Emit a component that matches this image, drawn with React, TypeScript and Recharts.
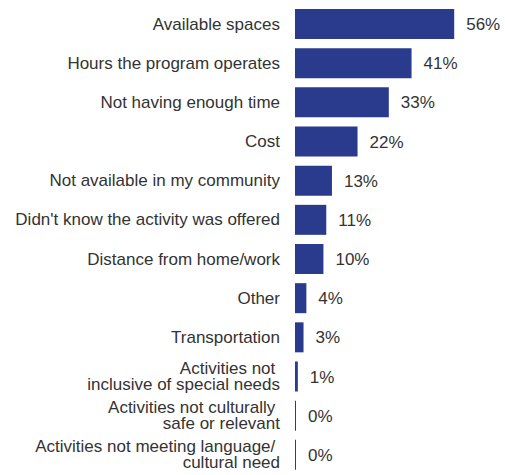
import React from 'react'
import { BarChart, Bar, XAxis, YAxis, LabelList } from 'recharts'

// Survey barriers, share of respondents (%)
const CATEGORIES = [
  'Available spaces',
  'Hours the program operates',
  'Not having enough time',
  'Cost',
  'Not available in my community',
  "Didn't know the activity was offered",
  'Distance from home/work',
  'Other',
  'Transportation',
  'Activities not \ninclusive of special needs',
  'Activities not culturally \nsafe or relevant',
  'Activities not meeting language/ \ncultural need',
]
const VALUES = [56, 41, 33, 22, 13, 11, 10, 4, 3, 1, 0, 0]

const DATA = CATEGORIES.map((name, i) => ({ name, value: VALUES[i] }))

const BAR_COLOR = '#2a3b8e'
const TEXT_COLOR = '#333333'
const FONT = '"Liberation Sans", Arial, sans-serif'

const CategoryTick = (props: any) => {
  const { x, y, payload } = props
  const lines = String(payload.value).split('\n')
  const lineH = 16
  const startY = y - ((lines.length - 1) * lineH) / 2
  return (
    <text
      x={x - 7}
      y={startY}
      textAnchor="end"
      fill={TEXT_COLOR}
      fontSize={17}
      fontFamily={FONT}
      dominantBaseline="central"
      style={{ whiteSpace: 'pre' }}
    >
      {lines.map((line, i) => (
        <tspan key={i} x={x - 7} dy={i === 0 ? 0 : lineH}>
          {line}
        </tspan>
      ))}
    </text>
  )
}

export default function App() {
  return (
    <div style={{ position: 'absolute', left: 0, top: 0, width: 505, height: 475, background: '#fff' }}>
      <BarChart
        width={505}
        height={475}
        data={DATA}
        layout="vertical"
        margin={{ top: 4, right: 11, bottom: 1, left: 0 }}
      >
        <XAxis type="number" domain={[0, 70]} hide />
        <YAxis
          type="category"
          dataKey="name"
          width={295}
          axisLine={false}
          tickLine={false}
          interval={0}
          tick={<CategoryTick />}
        />
        <Bar dataKey="value" fill={BAR_COLOR} barSize={30} minPointSize={1} isAnimationActive={false}>
          <LabelList
            dataKey="value"
            position="right"
            offset={12}
            formatter={(v: any) => `${v}%`}
            fill={TEXT_COLOR}
            fontSize={17}
            fontFamily={FONT}
          />
        </Bar>
      </BarChart>
    </div>
  )
}
